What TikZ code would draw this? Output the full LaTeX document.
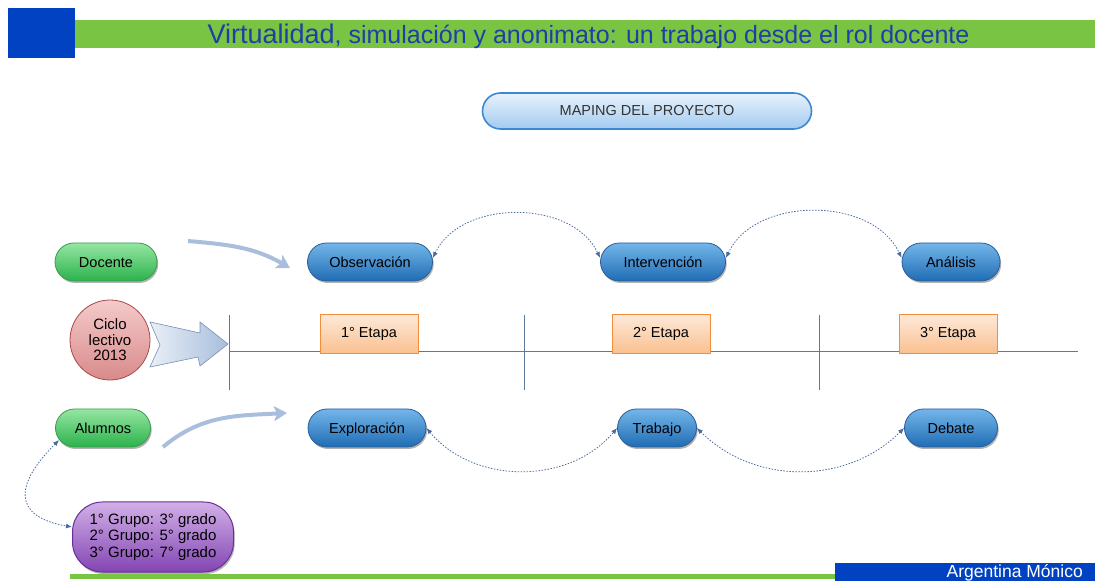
\documentclass[tikz,border=0pt]{standalone}
\usepackage{fontspec}
\setmainfont{Liberation Sans}
\usetikzlibrary{arrows.meta,shadows}

\definecolor{hdrblue}{HTML}{0042C2}
\definecolor{hdrgreen}{HTML}{7AC443}
\definecolor{titleblue}{HTML}{1E3FA6}
\definecolor{pilltop}{HTML}{74B6EA}
\definecolor{pillbot}{HTML}{1F6CB4}
\definecolor{pilledge}{HTML}{2A5D98}
\definecolor{greentop}{HTML}{95E6A2}
\definecolor{greenbot}{HTML}{2BB24C}
\definecolor{greenedge}{HTML}{3B9B4E}
\definecolor{purptop}{HTML}{D2B0E8}
\definecolor{purpbot}{HTML}{8345B3}
\definecolor{purpedge}{HTML}{6B2E98}
\definecolor{redtop}{HTML}{F4CACA}
\definecolor{redbot}{HTML}{D98A8A}
\definecolor{rededge}{HTML}{A94A4A}
\definecolor{orgtop}{HTML}{FDE9D9}
\definecolor{orgbot}{HTML}{FAC090}
\definecolor{orgedge}{HTML}{F38F3C}
\definecolor{maptop}{HTML}{E8F2FC}
\definecolor{mapbot}{HTML}{A3CBF0}
\definecolor{mapedge}{HTML}{3D88D2}
\definecolor{lineblue}{HTML}{5C7B9C}
\definecolor{dotblue}{HTML}{4C6C9E}
\definecolor{arrfill}{HTML}{A8BEDC}
\definecolor{arredge}{HTML}{7D95B8}

\begin{document}
\begin{tikzpicture}[x=1pt, y=1pt, font=\fontsize{14.5}{16}\selectfont,
    pillshadow/.style={drop shadow={shadow xshift=1.2pt, shadow yshift=-2pt, opacity=0.3, fill=black}},
    bluepill/.style={rectangle, rounded corners=19pt, draw=pilledge, line width=0.8pt,
      top color=pilltop, bottom color=pillbot, minimum height=38pt,
      text height=10.5pt, text depth=0pt, pillshadow},
    greenpill/.style={rectangle, rounded corners=19pt, draw=greenedge, line width=0.8pt,
      top color=greentop, bottom color=greenbot, minimum height=38pt,
      text height=10.5pt, text depth=0pt, pillshadow},
    purppill/.style={rectangle, rounded corners=30pt, draw=purpedge, line width=1pt,
      top color=purptop, bottom color=purpbot, minimum width=161pt, minimum height=70pt,
      align=left, font=\fontsize{15}{16.5}\selectfont, pillshadow},
    mappill/.style={rectangle, rounded corners=18pt, draw=mapedge, line width=1.6pt,
      top color=maptop, bottom color=mapbot, minimum width=329pt, minimum height=36pt,
      text=black!80},
    etapa/.style={rectangle, draw=orgedge, line width=0.8pt, top color=orgtop,
      bottom color=orgbot, minimum width=98pt, minimum height=39pt},
    ciclo/.style={circle, draw=rededge, line width=0.8pt, top color=redtop,
      bottom color=redbot, minimum size=80pt, align=center,
      font=\fontsize{15}{15.5}\selectfont},
    dotarc/.style={dotblue, line width=0.8pt, dash pattern=on 1.5pt off 1.5pt,
      {Latex[length=6pt,width=5pt]}-{Latex[length=6pt,width=5pt]}},
    bigarrow/.style={arrfill, line width=4pt, -{Stealth[length=13pt,width=15pt,inset=3pt]}}]

  \useasboundingbox (0,0) rectangle (1095,581);

  % header
  \fill[hdrgreen] (8,533) rectangle (1095,561);
  \fill[hdrblue] (8,523) rectangle (75,573);
  \node (Tit) [anchor=base, text=titleblue] at (588.5,537)
    {\fontsize{27}{30}\selectfont Virtualidad\fontsize{25}{30}\selectfont, simulación y anonimato: un trabajo desde el rol docente};

  \node (Map) [mappill] at (647,470) {MAPING DEL PROYECTO};

  % row of the teacher
  \node (Doc) [greenpill, minimum width=102pt] at (106,319) {Docente};
  \node (Obs) [bluepill, minimum width=125pt] at (370,319) {Observación};
  \node (Int) [bluepill, minimum width=125pt] at (663,319) {Intervención};
  \node (Ana) [bluepill, minimum width=98pt] at (951,319) {Análisis};

  % time line
  \coordinate (TlS) at (229,230);
  \coordinate (TlE) at (1078,230);
  \draw[lineblue, line width=0.8pt] (TlS) -- (TlE);
  \foreach \x in {229,524,819}
    \draw[lineblue, line width=0.8pt] (\x,266) -- (\x,191);
  \node (Et1) [etapa] at (369,247) {1° Etapa};
  \node (Et2) [etapa] at (661,247) {2° Etapa};
  \node (Et3) [etapa] at (948,247) {3° Etapa};

  \filldraw[arredge, line width=0.6pt, left color=arrfill!25, right color=arrfill]
    (150,259) -- (200,248) -- (200,259) -- (228,237) -- (200,215) -- (198,224)
    -- (150,214) -- (160,236) -- cycle;
  \node (Cic) [ciclo] at (110,241) {Ciclo\\lectivo\\2013};

  % row of the pupils
  \node (Alu) [greenpill, minimum width=95pt] at (103,153) {Alumnos};
  \node (Exp) [bluepill, minimum width=118pt] at (367,153) {Exploración};
  \node (Tra) [bluepill, minimum width=79pt] at (657,153) {Trabajo};
  \node (Deb) [bluepill, minimum width=93pt] at (951,153) {Debate};
  \node (Grp) [purppill] at (153,44) {1° Grupo: 3° grado\\2° Grupo: 5° grado\\3° Grupo: 7° grado};

  \coordinate (DocS) at (188,340);
  \coordinate (DocE) at (290,313);
  \coordinate (AluS) at (163,134);
  \coordinate (AluE) at (287,168);
  \draw[bigarrow] (DocS) to[out=-5,in=150] (DocE);
  \draw[bigarrow] (AluS) to[out=40,in=183] (AluE);

  \draw[dotarc] ([yshift=4pt]Obs.east) to[out=65,in=115] ([yshift=4pt]Int.west);
  \draw[dotarc] ([yshift=4pt]Int.east) to[out=65,in=115] ([yshift=4pt]Ana.west);
  \draw[dotarc] (Exp.east) to[out=-50,in=-130] (Tra.west);
  \draw[dotarc] (Tra.east) to[out=-45,in=-135] (Deb.west);
  \draw[dotarc] ([xshift=4pt,yshift=-12pt]Alu.west) to[out=225,in=170,looseness=1.8] ([yshift=10pt]Grp.west);

  % footer
  \fill[hdrgreen] (70,2) rectangle (835,7);
  \fill[hdrblue] (835,0) rectangle (1095,18);
  \node (Aut) [anchor=base east, text=white, inner sep=0pt] at (1083,4)
    {\fontsize{17.5}{18}\selectfont Argentina Mónico};
\end{tikzpicture}
\end{document}
